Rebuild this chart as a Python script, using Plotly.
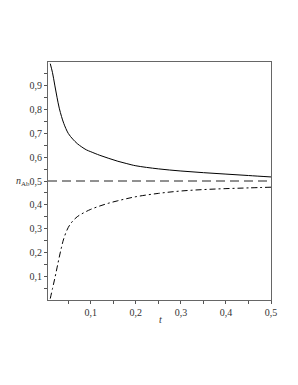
import plotly.graph_objects as go

# Values
t_solid = [0.010, 0.015, 0.020, 0.025, 0.030, 0.035, 0.040, 0.050, 0.060, 0.070, 0.080, 0.090,
           0.100, 0.120, 0.140, 0.160, 0.180, 0.200, 0.250, 0.300, 0.350, 0.400, 0.450, 0.500]
n_solid = [0.993, 0.955, 0.903, 0.852, 0.806, 0.771, 0.742, 0.700, 0.676, 0.657, 0.643, 0.631,
           0.623, 0.608, 0.595, 0.583, 0.573, 0.564, 0.551, 0.542, 0.535, 0.529, 0.523, 0.517]

t_dashdot = [0.010, 0.015, 0.020, 0.025, 0.030, 0.035, 0.040, 0.050, 0.060, 0.070, 0.080, 0.090,
             0.100, 0.120, 0.140, 0.160, 0.180, 0.200, 0.250, 0.300, 0.350, 0.400, 0.450, 0.500]
n_dashdot = [0.006, 0.048, 0.090, 0.135, 0.180, 0.222, 0.258, 0.305, 0.332, 0.350, 0.362, 0.372,
             0.381, 0.395, 0.407, 0.417, 0.426, 0.434, 0.448, 0.458, 0.464, 0.468, 0.471, 0.474]

t_dash = [0.005, 0.500]
n_dash = [0.5, 0.5]

x_ticks = [0.1, 0.2, 0.3, 0.4, 0.5]
x_tick_labels = ["0,1", "0,2", "0,3", "0,4", "0,5"]
x_minor = [0.05, 0.15, 0.25, 0.35, 0.45]
y_ticks = [0.1, 0.2, 0.3, 0.4, 0.5, 0.6, 0.7, 0.8, 0.9]
y_tick_labels = ["0,1", "0,2", "0,3", "0,4", "0,5", "0,6", "0,7", "0,8", "0,9"]
y_minor = [0.05, 0.15, 0.25, 0.35, 0.45, 0.55, 0.65, 0.75, 0.85, 0.95]

fig = go.Figure()
fig.add_trace(go.Scatter(x=t_solid, y=n_solid, mode="lines",
                         line=dict(color="black", width=1, shape="spline", smoothing=1.0)))
fig.add_trace(go.Scatter(x=t_dash, y=n_dash, mode="lines",
                         line=dict(color="#222", width=1, dash="9px,5px")))
fig.add_trace(go.Scatter(x=t_dashdot, y=n_dashdot, mode="lines",
                         line=dict(color="black", width=1, dash="6px,3px,2px,3px",
                                   shape="spline", smoothing=1.0)))

font = dict(family="Liberation Serif, Times New Roman, serif", size=10, color="#333")

fig.update_layout(
    width=282, height=369,
    margin=dict(l=40, r=19, t=54, b=77),
    paper_bgcolor="white", plot_bgcolor="white",
    showlegend=False,
    separators=",.",
    font=font,
    xaxis=dict(range=[0.005, 0.5], tickvals=x_ticks, ticktext=x_tick_labels,
               ticks="outside", ticklen=3, tickcolor="#555", showgrid=False, zeroline=False,
               showline=True, linecolor="#666", linewidth=1, mirror=True,
               minor=dict(tickvals=x_minor, ticks="outside", ticklen=3, tickcolor="#555"),
               tickfont=font),
    yaxis=dict(range=[0, 1.0], tickvals=y_ticks, ticktext=y_tick_labels,
               ticks="outside", ticklen=3, tickcolor="#555", showgrid=False, zeroline=False,
               showline=True, linecolor="#666", linewidth=1, mirror=True,
               minor=dict(tickvals=y_minor, ticks="outside", ticklen=3, tickcolor="#555"),
               tickfont=font),
)

fig.add_annotation(text="<i>n</i><sub>Ab</sub>", xref="paper", yref="y", x=-0.07, y=0.5,
                   xanchor="right", yanchor="middle", showarrow=False, font=font)
fig.add_annotation(text="<i>t</i>", xref="paper", yref="paper", x=0.504, y=-0.08,
                   xanchor="center", yanchor="middle", showarrow=False, font=font)

fig.write_html("out.html")
